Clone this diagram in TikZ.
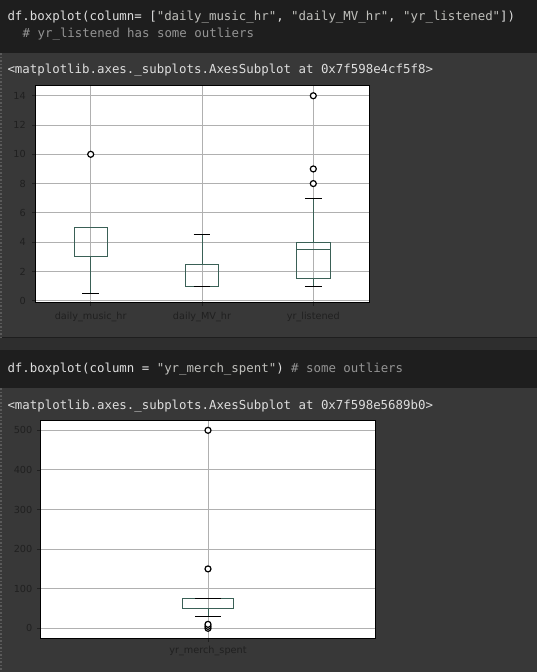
\documentclass[tikz,border=0pt]{standalone}
\usepackage{fontspec}
\newfontfamily\codefont{DejaVu Sans Mono}
\newfontfamily\tickfont{DejaVu Sans}
\definecolor{cellbg}{RGB}{30,30,30}
\definecolor{outbg}{RGB}{56,56,56}
\definecolor{bandbg}{RGB}{46,46,46}
\definecolor{edgegray}{RGB}{90,90,90}
\definecolor{codetext}{RGB}{222,222,222}
\definecolor{strtext}{RGB}{192,192,188}
\definecolor{commtext}{RGB}{148,148,148}
\definecolor{ticktext}{RGB}{32,32,32}
\definecolor{gridgray}{RGB}{176,176,176}
\definecolor{boxteal}{RGB}{58,96,86}
\begin{document}
\begin{tikzpicture}[x=1pt, y=-1pt,
  codetxt/.style={anchor=west, inner sep=0pt, font=\codefont\fontsize{12.4}{14}\selectfont, text=codetext},
  ticklbl/.style={inner sep=0pt, font=\tickfont\fontsize{9.7}{11}\selectfont, text=ticktext},
  gridln/.style={draw=gridgray, line width=1pt},
  boxln/.style={draw=boxteal, line width=1pt},
  capln/.style={draw=black, line width=1pt},
  tickln/.style={draw=ticktext, line width=0.8pt},
  flier/.style={draw=black, fill=white, line width=1.2pt},
  axframe/.style={draw=black, line width=1pt}
]
\useasboundingbox (0,0) rectangle (537,672);

% notebook cells
\fill[outbg] (0,0) rectangle (537,672);
\fill[cellbg] (0,0) rectangle (537,53);
\fill[bandbg] (0,338) rectangle (537,350);
\fill[cellbg] (0,350) rectangle (537,388);
\draw[cellbg, line width=1pt] (0,337.5) -- (537,337.5);
\draw[edgegray, line width=1.5pt, dotted] (1,53) -- (1,337);
\draw[edgegray, line width=1.5pt, dotted] (1,388) -- (1,672);

% code and output text
\node[codetxt] (code1) at (7.3,17) {df.boxplot(column= [\textcolor{strtext}{"daily\_music\_hr"}, \textcolor{strtext}{"daily\_MV\_hr"}, \textcolor{strtext}{"yr\_listened"}])};
\node[codetxt, text=commtext] (comm1) at (22.5,34) {\# yr\_listened has some outliers};
\node[codetxt] (out1) at (7.3,70.5) {<matplotlib.axes.\_subplots.AxesSubplot at 0x7f598e4cf5f8>};
\node[codetxt] (code2) at (7.3,369.5) {df.boxplot(column = \textcolor{strtext}{"yr\_merch\_spent"}) \textcolor{commtext}{\# some outliers}};
\node[codetxt] (out2) at (7.3,406) {<matplotlib.axes.\_subplots.AxesSubplot at 0x7f598e5689b0>};

% first boxplot
\fill[white] (35,85.5) rectangle (369,302.7);
\begin{scope}[shift={(0,300.7)}, y=14.64pt]
  \foreach \v in {0,2,...,14} {
    \draw[gridln] (35,\v) -- (369,\v);
    \draw[tickln] (35,\v) -- ++(-3.5pt,0);
    \node[ticklbl, anchor=east] (ya\v) at (26,\v) {\v};
  }
  \foreach \c in {90.7,202,313.3} {
    \draw[gridln] (\c,-0.137) -- (\c,14.70);
    \draw[tickln] (\c,-0.137) -- ++(0,-3.5pt);
  }
  % daily_music_hr
  \draw[boxln] (90.7,3) -- (90.7,0.5);
  \draw[boxln] (74,3) rectangle (107.4,5);
  \draw[boxln] (74,3) -- (107.4,3);
  \draw[capln] (82.35,0.5) -- (99.05,0.5);
  \draw[flier] (90.7,10) circle (3pt);
  % daily_MV_hr
  \draw[boxln] (202,2.5) -- (202,4.5);
  \draw[boxln] (185.3,1) rectangle (218.7,2.5);
  \draw[capln] (193.65,1) -- (210.35,1);
  \draw[capln] (193.65,4.5) -- (210.35,4.5);
  % yr_listened
  \draw[boxln] (313.3,1.5) -- (313.3,1);
  \draw[boxln] (313.3,4) -- (313.3,7);
  \draw[boxln] (296.6,1.5) rectangle (330,4);
  \draw[boxln] (296.6,3.5) -- (330,3.5);
  \draw[capln] (304.95,1) -- (321.65,1);
  \draw[capln] (304.95,7) -- (321.65,7);
  \foreach \f in {8,9,14}
    \draw[flier] (313.3,\f) circle (3pt);
  \draw[axframe] (35,-0.137) rectangle (369,14.70);
\end{scope}
\node[ticklbl] (xa1) at (90.7,316.7) {daily\_music\_hr};
\node[ticklbl] (xa2) at (202,316.7) {daily\_MV\_hr};
\node[ticklbl] (xa3) at (313.3,316.7) {yr\_listened};

% second boxplot
\fill[white] (40.7,420.7) rectangle (375.3,638.3);
\begin{scope}[shift={(0,628.3)}, y=0.396pt]
  \foreach \v in {0,100,...,500} {
    \draw[gridln] (40.7,\v) -- (375.3,\v);
    \draw[tickln] (40.7,\v) -- ++(-3.5pt,0);
    \node[ticklbl, anchor=east] (yb\v) at (32.5,\v) {\v};
  }
  \draw[gridln] (208,-25.25) -- (208,524.2);
  \draw[tickln] (208,-25.25) -- ++(0,-3.5pt);
  % yr_merch_spent
  \draw[boxln] (208,50) -- (208,30);
  \draw[boxln] (182.3,50) rectangle (233.7,75);
  \draw[capln] (195.2,30) -- (220.8,30);
  \draw[capln] (195.2,75) -- (220.8,75);
  \foreach \f in {0,5,10,150,500}
    \draw[flier] (208,\f) circle (3pt);
  \draw[axframe] (40.7,-25.25) rectangle (375.3,524.2);
\end{scope}
\node[ticklbl] (xb1) at (208,650.7) {yr\_merch\_spent};
\end{tikzpicture}
\end{document}
